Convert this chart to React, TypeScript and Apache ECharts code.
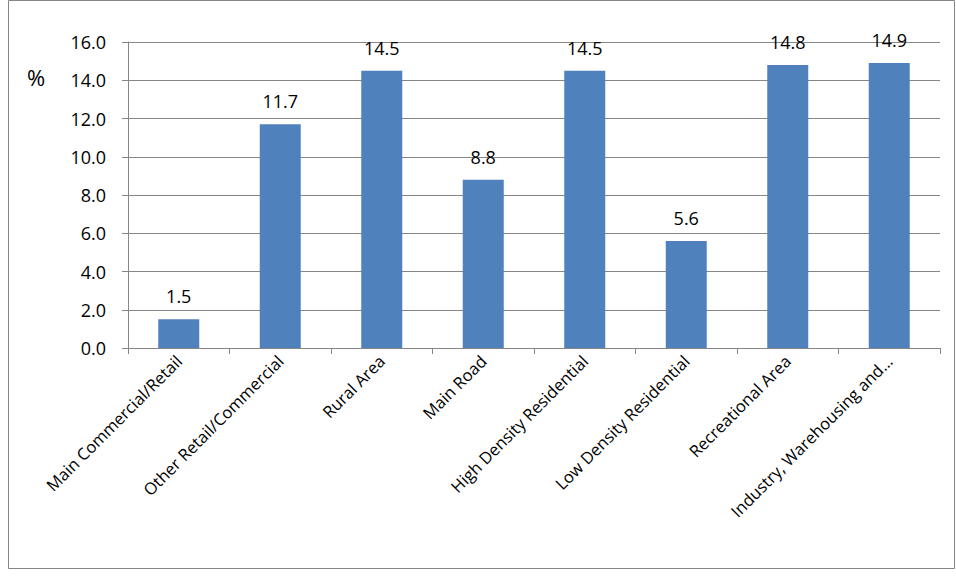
import { useEffect, useRef } from 'react'
import * as echarts from 'echarts'

const categories = [
  'Main Commercial/Retail',
  'Other Retail/Commercial',
  'Rural Area',
  'Main Road',
  'High Density Residential',
  'Low Density Residential',
  'Recreational Area',
  'Industry, Warehousing and...',
]
const values = [1.5, 11.7, 14.5, 8.8, 14.5, 5.6, 14.8, 14.9]

const font = '"Open Sans", "Liberation Sans", sans-serif'

export default function App() {
  const chartRef = useRef<HTMLDivElement>(null)

  useEffect(() => {
    if (!chartRef.current) return
    const chart = echarts.init(chartRef.current, undefined, { renderer: 'svg' })
    chart.setOption({
      animation: false,
      backgroundColor: '#fff',
      grid: { left: 128, right: 16, top: 42, bottom: 233 },
      graphic: [
        {
          type: 'rect',
          shape: { x: 8.5, y: 0.5, width: 946, height: 568 },
          style: { fill: 'none', stroke: '#868686', lineWidth: 1 },
        },
        {
          type: 'text',
          x: 27,
          y: 66,
          style: { text: '%', fontSize: 22, fontFamily: font, fill: '#000' },
        },
      ],
      xAxis: {
        type: 'category',
        data: categories,
        axisLine: { lineStyle: { color: '#868686' } },
        axisTick: { show: true, length: 6, lineStyle: { color: '#868686' } },
        axisLabel: { rotate: 45, interval: 0, fontSize: 16.5, fontFamily: font, color: '#000', margin: 10 },
      },
      yAxis: {
        type: 'value',
        min: 0,
        max: 16,
        interval: 2,
        axisLine: { show: true, lineStyle: { color: '#868686' } },
        axisTick: { show: true, length: 6, lineStyle: { color: '#868686' } },
        splitLine: { lineStyle: { color: '#868686' } },
        axisLabel: {
          fontSize: 18,
          fontFamily: font,
          color: '#000',
          margin: 22,
          formatter: (v: number) => v.toFixed(1),
        },
      },
      series: [
        {
          type: 'bar',
          data: values,
          barWidth: 41,
          itemStyle: { color: '#4f81bd' },
          label: {
            show: true,
            position: 'top',
            distance: 14,
            fontSize: 18,
            fontFamily: font,
            color: '#000',
            formatter: (p: any) => p.value.toFixed(1),
          },
        },
      ],
    })
    return () => chart.dispose()
  }, [])

  return (
    <div
      ref={chartRef}
      style={{ position: 'fixed', left: 0, top: 0, width: 956, height: 581 }}
    />
  )
}
